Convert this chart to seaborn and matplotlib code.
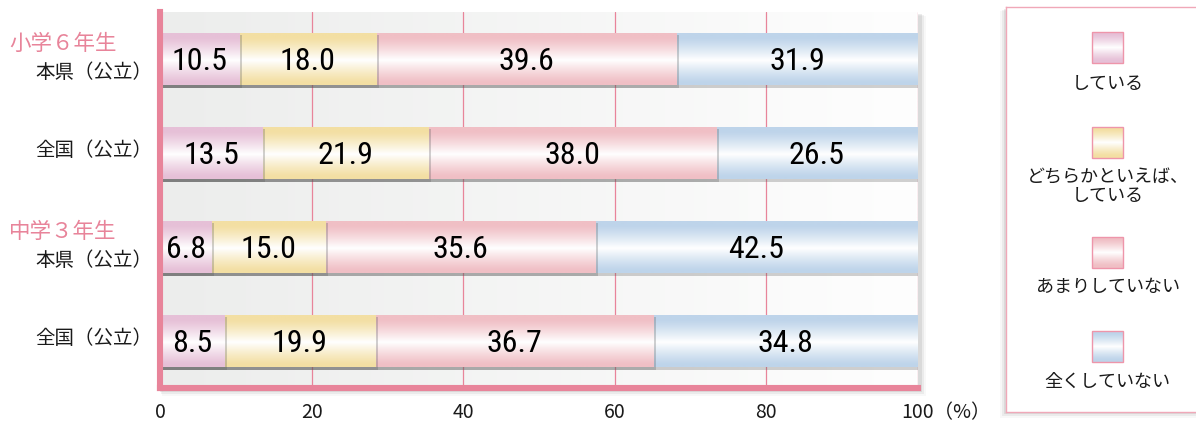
import numpy as np
import pandas as pd
import matplotlib
matplotlib.use("Agg")
import matplotlib.pyplot as plt
import seaborn as sns
from matplotlib.patches import Rectangle
from matplotlib import patheffects as pe
from matplotlib import font_manager as fm
from matplotlib.colors import to_rgb
from matplotlib.transforms import ScaledTranslation

# ---- data -------------------------------------------------------------
row_ids = ["小6本県", "小6全国", "中3本県", "中3全国"]
group_labels = ["小学６年生", "", "中学３年生", ""]
area_labels = ["本県（公立）", "全国（公立）", "本県（公立）", "全国（公立）"]
answers = ["している", "どちらかといえば、\nしている", "あまりしていない", "全くしていない"]
doing = [10.5, 13.5, 6.8, 8.5]
rather_doing = [18.0, 21.9, 15.0, 19.9]
rarely_doing = [39.6, 38.0, 35.6, 36.7]
never_doing = [31.9, 26.5, 42.5, 34.8]
x_ticks = [0, 20, 40, 60, 80, 100]

series = [doing, rather_doing, rarely_doing, never_doing]
colors = ["#E6C0D7", "#F3DFA3", "#F0BFC5", "#BED4EA"]
accent = "#E8849A"

# long table with the left edge and right edge of every segment
records = []
for a_idx, (ans, vals) in enumerate(zip(answers, series)):
    for r_idx, rid in enumerate(row_ids):
        left = sum(series[k][r_idx] for k in range(a_idx))
        records.append(dict(row=rid, answer=ans, value=vals[r_idx],
                            left=left, right=left + vals[r_idx]))
df = pd.DataFrame(records)

sns.set_theme(style="white")
plt.rcParams["font.family"] = ["Noto Sans CJK JP", "DejaVu Sans"]

# a narrow face for the numbers inside the bars, if one is available
installed = {f.name: f for f in fm.fontManager.ttflist}
num_font, num_size, num_stretch = "Roboto", 20, "normal"
for name in ["Liberation Sans Narrow", "Roboto Condensed", "Open Sans Condensed",
             "Noto Sans Condensed", "Noto Sans Display Condensed", "DejaVu Sans Condensed"]:
    if name in installed:
        num_font, num_size = name, 23
        break
else:
    condensed = [f for f in fm.fontManager.ttflist
                 if f.name in ("Noto Sans", "Open Sans", "DejaVu Sans")
                 and str(f.stretch) in ("condensed", "semi-condensed", "extra-condensed",
                                        "62.5", "75", "87.5")]
    if condensed:
        num_font, num_size, num_stretch = condensed[0].name, 22, condensed[0].stretch

W, H = 1196, 425
fig = plt.figure(figsize=(W / 100, H / 100), dpi=100)
fig.patch.set_facecolor("white")


def px_rect(x0, y0, x1, y1, **kw):
    """Rectangle given in pixel coordinates measured from the top-left."""
    return Rectangle((x0 / W, 1 - y1 / H), (x1 - x0) / W, (y1 - y0) / H,
                     transform=fig.transFigure, **kw)


# soft drop shadows behind the plot panel and the legend panel
for i, a in enumerate([0.10, 0.07, 0.04]):
    fig.add_artist(px_rect(160 + i, 14 + i, 920 + 2 + 2 * i, 390 + 2 + 2 * i,
                           facecolor="0.3", alpha=a, linewidth=0, zorder=0))
    fig.add_artist(px_rect(1004 - 2 * i, 9 + i, 1196, 412 + 2 + 2 * i,
                           facecolor="0.3", alpha=a, linewidth=0, zorder=0))

ax = fig.add_axes([160 / W, 1 - 388 / H, 758 / W, 376 / H])
ax.set_facecolor("none")


def bar_gradient(color, n=80):
    t = np.linspace(0, 1, n)
    w = np.clip(1 - np.abs(t - 0.53) / 0.43, 0, 1) ** 1.2
    base = np.array(to_rgb(color))
    rgb = base[None, :] * (1 - w[:, None]) + w[:, None]
    return rgb[:, None, :]


# stacked bars: draw cumulative totals from the longest down to the shortest
for k in range(len(answers) - 1, -1, -1):
    sub = df[df["answer"] == answers[k]]
    n_before = len(ax.patches)
    sns.barplot(data=sub, x="right", y="row", order=row_ids, orient="h",
                color=colors[k], saturation=1, width=0.56, errorbar=None,
                linewidth=0, ax=ax)
    grad = bar_gradient(colors[k])
    z = 2 + (len(answers) - 1 - k) * 0.2
    for p in ax.patches[n_before:]:
        p.set_zorder(z)
        p.set_path_effects([pe.SimplePatchShadow(offset=(2.0, -2.0),
                                                 shadow_rgbFace="0.35",
                                                 alpha=0.28),
                            pe.Normal()])
        x0, y0, w, h = p.get_x(), p.get_y(), p.get_width(), p.get_height()
        im = ax.imshow(grad, extent=[x0, x0 + w, y0 + h, y0], aspect="auto",
                       interpolation="bilinear", zorder=z + 0.1)
        im.set_clip_path(p)

# segment value labels
for _, r in df.iterrows():
    y = row_ids.index(r["row"])
    ax.text((r["left"] + r["right"]) / 2, y, f"{r['value']:.1f}",
            ha="center", va="center_baseline", fontsize=num_size, color="black",
            family=[num_font, "DejaVu Sans"], fontstretch=num_stretch, zorder=5)

# panel background: light grey fading to white
bg = np.linspace(0, 1, 200)
bg_rgb = (np.array(to_rgb("#ECEDEC"))[None, :] * (1 - bg[:, None])
          + bg[:, None] * np.array(to_rgb("#FEFEFE"))[None, :])
ax.imshow(bg_rgb[None, :, :], extent=[0, 100, 3.5, -0.5], aspect="auto",
          interpolation="bilinear", zorder=0)

for xv in x_ticks[1:]:
    ax.axvline(xv, color=accent, linewidth=0.9, zorder=1)

ax.set_xlim(0, 100)
ax.set_ylim(3.5, -0.5)
ax.set_xlabel("")
ax.set_ylabel("")
ax.set_yticks(range(len(row_ids)))
ax.set_yticklabels([])
ax.set_xticks(x_ticks)
ax.set_xticklabels([str(v) for v in x_ticks[:-1]] + [f"{x_ticks[-1]}（%）"])
ax.tick_params(axis="both", length=0)
ax.tick_params(axis="x", pad=10, labelsize=14, labelcolor="#1a1a1a")
ax.grid(False)
# the last label carries the unit: keep its number centred on the tick
last = ax.get_xticklabels()[-1]
last.set_horizontalalignment("left")
last.set_transform(last.get_transform() + ScaledTranslation(-0.165, 0, fig.dpi_scale_trans))

for side in ["top", "right"]:
    ax.spines[side].set_visible(False)
for side in ["left", "bottom"]:
    ax.spines[side].set_color(accent)
    ax.spines[side].set_linewidth(4.4)
    ax.spines[side].set_capstyle("projecting")
    ax.spines[side].set_zorder(10)

# row labels and group headings at the left
for i in range(len(row_ids)):
    off = 9.5 if group_labels[i] else -1.5
    ax.annotate(area_labels[i], xy=(0, i), xycoords=("axes fraction", "data"),
                xytext=(-5.5, -off), textcoords="offset points",
                ha="right", va="center", fontsize=14, color="#1a1a1a")
    if group_labels[i]:
        ax.annotate(group_labels[i], xy=(0, i), xycoords=(fig.transFigure, "data"),
                    xytext=(9 * 0.72, 11), textcoords="offset points",
                    ha="left", va="center", fontsize=15.5, color=accent)

# legend panel
lax = fig.add_axes([1006 / W, 1 - 412 / H, (1200 - 1006) / W, (412 - 7) / H])
lax.set_facecolor("white")
lax.set_xticks([])
lax.set_yticks([])
for side in lax.spines.values():
    side.set_color("#F0A8B8")
    side.set_linewidth(1.0)

swatch_y = [47, 142, 252, 346]
label_y = [84, 187, 287, 382]
for k in range(len(answers)):
    cy = swatch_y[k]
    sq = Rectangle((1091.5, cy - 15.5), 31, 31, facecolor=colors[k],
                   edgecolor="none", zorder=2)
    lax.add_patch(sq)
    im = lax.imshow(bar_gradient(colors[k]), extent=[1091.5, 1122.5, cy + 15.5, cy - 15.5],
                    aspect="auto", interpolation="bilinear", zorder=2.1)
    im.set_clip_path(sq)
    lax.add_patch(Rectangle((1091.5, cy - 15.5), 31, 31, facecolor="none",
                            edgecolor="#EE95AA", linewidth=1.0, zorder=3))
    lax.text(1107.5, label_y[k], answers[k], ha="center", va="center",
             fontsize=13, color="#1a1a1a", linespacing=1.05)
lax.set_xlim(1006, 1200)
lax.set_ylim(412, 7)

fig.savefig("out.png", dpi=100, facecolor="white")
